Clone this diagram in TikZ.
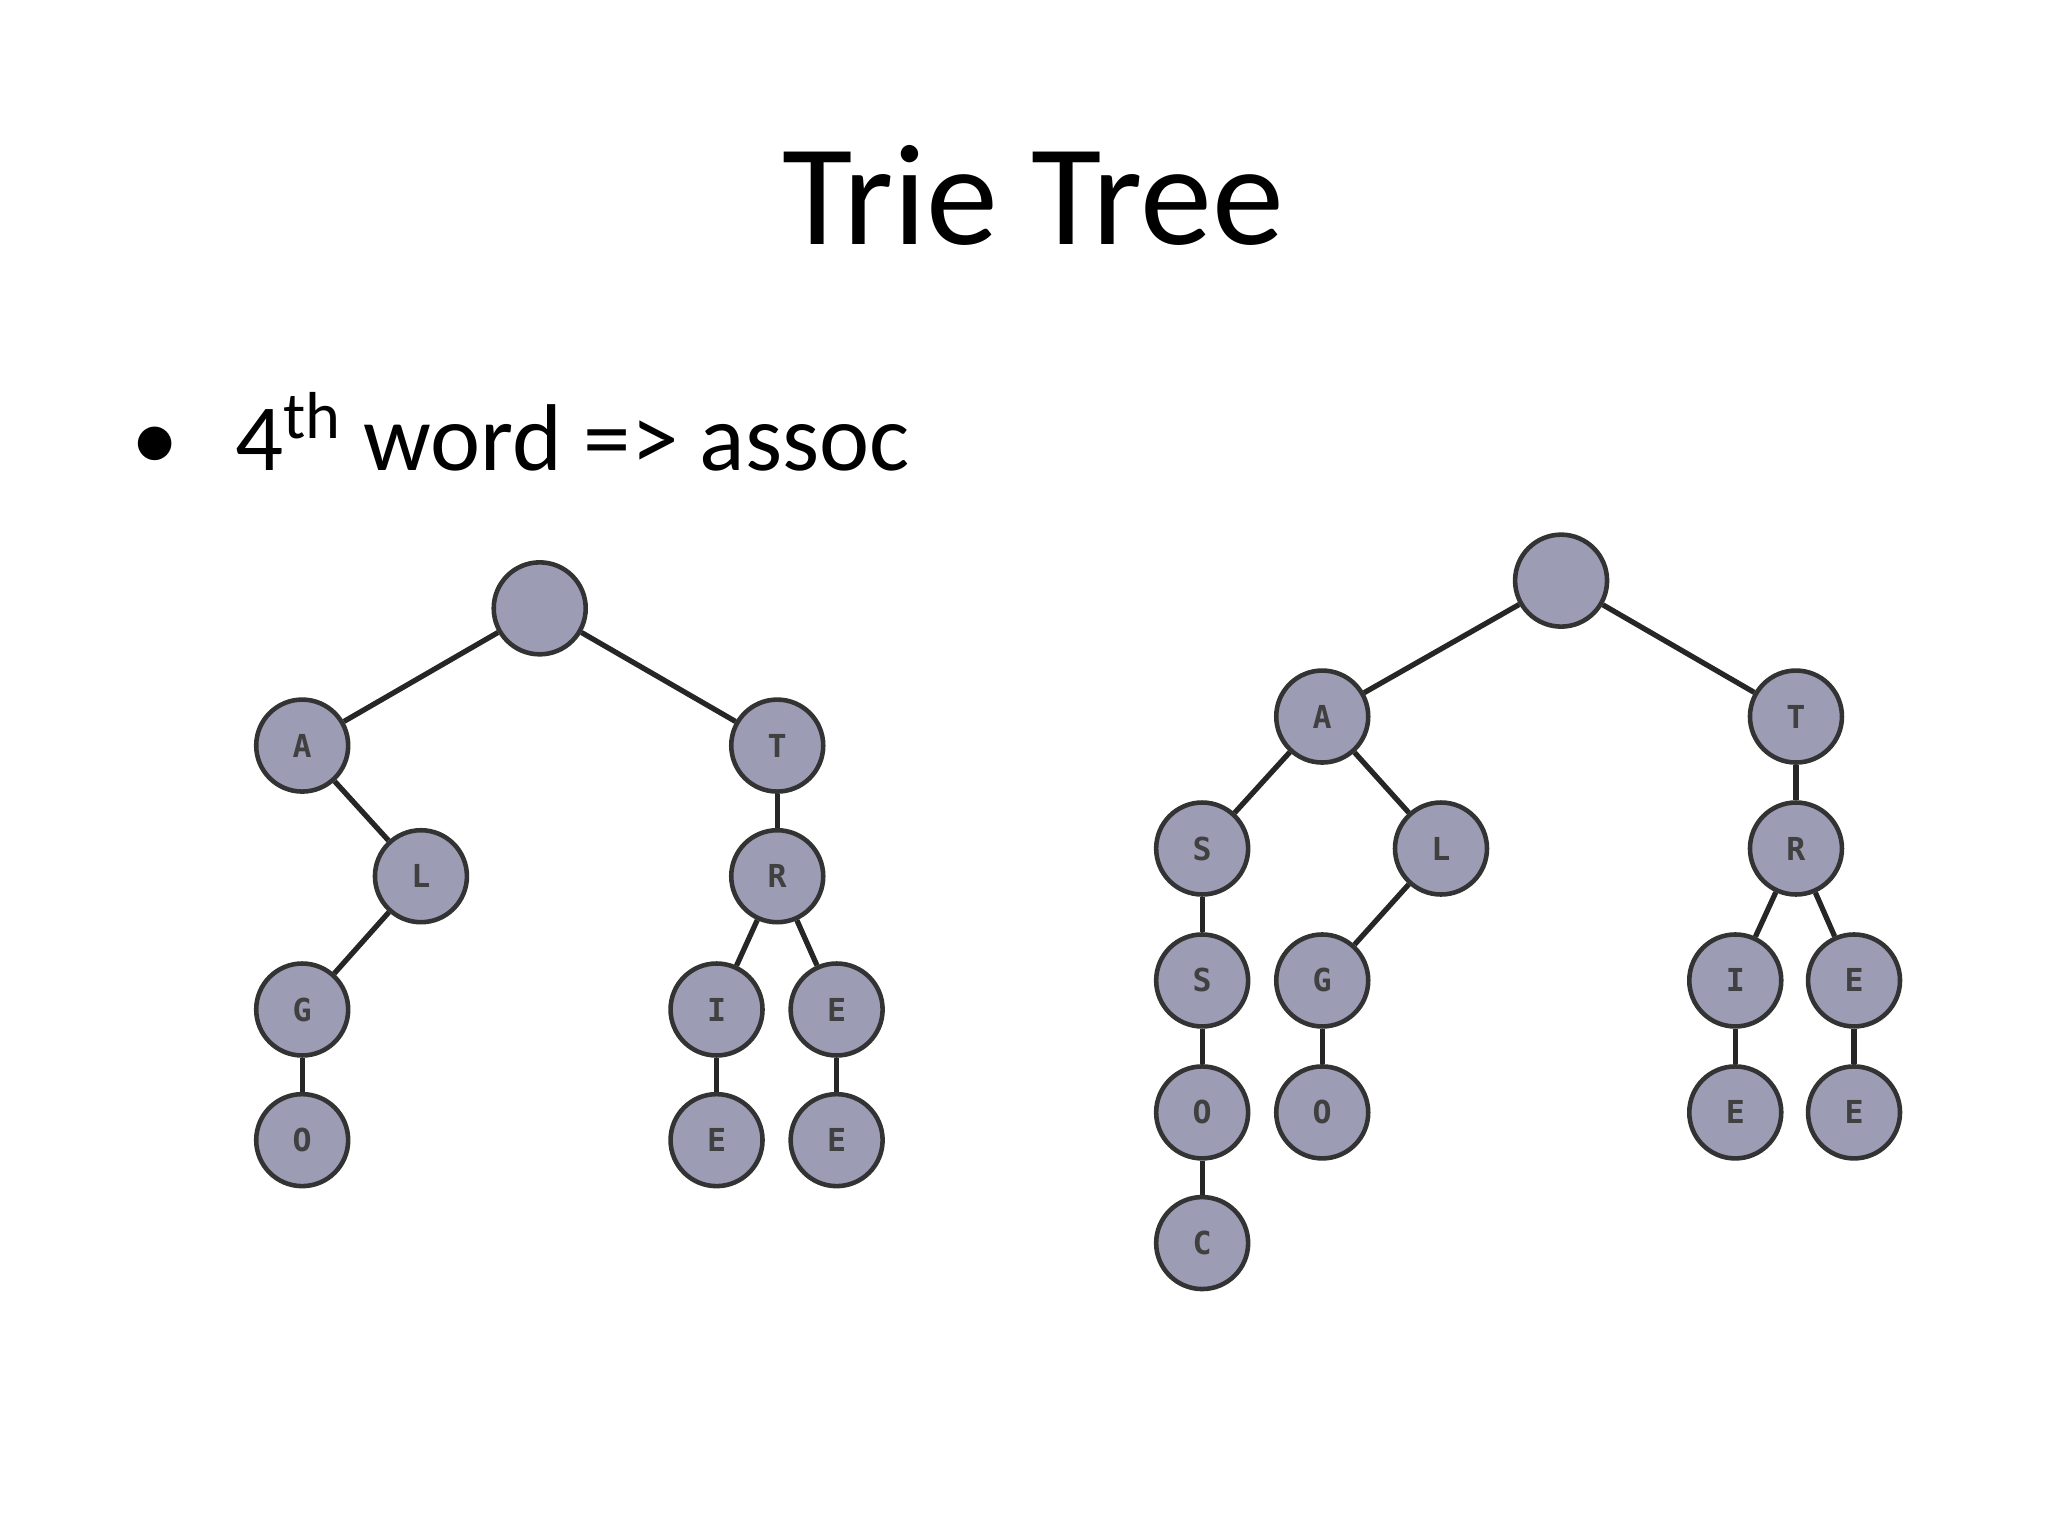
\documentclass[tikz,border=0pt]{standalone}
\usepackage{fontspec}
\setmainfont{Carlito}
\setmonofont{DejaVu Sans Mono}
\begin{document}
\begin{tikzpicture}[x=0.0132cm,y=-0.0132cm,
  tn/.style={circle,draw=black!80,line width=1.3pt,fill=nodefill,minimum size=0.92cm,inner sep=0pt,font=\ttfamily\bfseries\fontsize{9}{9}\selectfont,text=black!75},
  ed/.style={line width=1.5pt,black!85}]
\definecolor{nodefill}{HTML}{9C9CB4}
\useasboundingbox[fill=white] (0,0) rectangle (1552,1164);
\node (title) at (783,148) {\fontsize{41}{48}\selectfont Trie Tree};
\node[anchor=west] (bul) at (90,327) {\fontsize{27}{32}\selectfont •\hspace{0.6em}4\textsuperscript{th} word => assoc};
% left tree
\foreach \n/\x/\y/\t in {r/409/461/,a/229/565/A,t/589/565/T,l/319/664/L,rr/589/664/R,g/229/765/G,i/543/765/I,e1/634/765/E,o/229/864/O,e2/543/864/E,e3/634/864/E}
  \node[tn] (L\n) at (\x,\y) {\t};
\foreach \u/\v in {r/a,r/t,a/l,l/g,g/o,t/rr,rr/i,rr/e1,i/e2,e1/e3}
  \draw[ed] (L\u) -- (L\v);
% right tree
\foreach \n/\x/\y/\t in {r/1183/440/,a/1002/543/A,t/1361/543/T,s1/911/643/S,l/1092/643/L,rr/1361/643/R,s2/911/743/S,g/1002/743/G,i/1315/743/I,e1/1405/743/E,o1/911/843/O,o2/1002/843/O,e2/1315/843/E,e3/1405/843/E,c/911/942/C}
  \node[tn] (R\n) at (\x,\y) {\t};
\foreach \u/\v in {r/a,r/t,a/s1,a/l,s1/s2,s2/o1,o1/c,l/g,g/o2,t/rr,rr/i,rr/e1,i/e2,e1/e3}
  \draw[ed] (R\u) -- (R\v);
\end{tikzpicture}
\end{document}
